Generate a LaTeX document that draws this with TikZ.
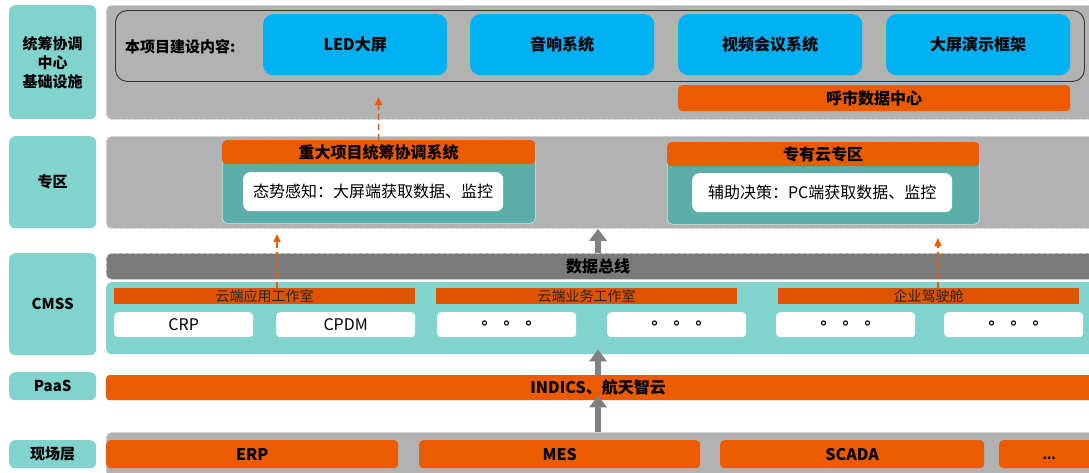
\documentclass[tikz,border=0pt]{standalone}
\usepackage{fontspec}
\setmainfont{Noto Sans CJK SC}
\newfontfamily\dotfont{DejaVu Sans}
\newfontfamily\latfont{Liberation Sans}
\usetikzlibrary{arrows.meta}
\definecolor{labteal}{HTML}{80D4CD}
\definecolor{zonegray}{HTML}{B2B2B2}
\definecolor{zoneline}{HTML}{D6D6D6}
\definecolor{busgray}{HTML}{7A7A7A}
\definecolor{screenblue}{HTML}{00B0F0}
\definecolor{orng}{HTML}{EB5C00}
\definecolor{barorng}{HTML}{DE5300}
\definecolor{systeal}{HTML}{5BAEA9}
\definecolor{arrowgray}{HTML}{808080}
\tikzset{
 layerlab/.style={fill=labteal,rounded corners=6pt,anchor=north west,minimum width=87pt,inner sep=0,align=center,font=\fontsize{15}{19}\selectfont\bfseries},
 zone/.style={fill=zonegray,draw=zoneline,dashed,line width=.8pt,rounded corners=5pt,anchor=north west,inner sep=0},
 bus/.style={zone,fill=busgray},
 cmssarea/.style={fill=labteal,rounded corners=5pt,anchor=north west,inner sep=0},
 scopebox/.style={draw=black!80,line width=.9pt,rounded corners=12pt,anchor=north west,inner sep=0},
 screen/.style={fill=screenblue,rounded corners=10pt,anchor=north west,minimum width=184pt,minimum height=61pt,inner sep=0,font=\fontsize{16}{18}\selectfont\bfseries},
 obar/.style={fill=orng,rounded corners=4pt,anchor=north west,inner sep=0,font=\fontsize{16}{18}\selectfont\bfseries},
 sysbody/.style={fill=systeal,draw=white!70!systeal,line width=.6pt,rounded corners=5pt,anchor=north west,inner sep=0},
 syshead/.style={fill=orng,rounded corners=4pt,anchor=north west,minimum height=24pt,inner sep=0,font=\fontsize{16}{18}\selectfont\bfseries},
 infobox/.style={fill=white,rounded corners=7pt,anchor=north west,minimum width=260pt,minimum height=39pt,inner sep=0,font=\fontsize{16}{18}\selectfont},
 studio/.style={fill=barorng,anchor=north west,minimum width=301pt,minimum height=16pt,inner sep=0,text=black!85,font=\fontsize{14}{16}\selectfont},
 app/.style={fill=white,rounded corners=4pt,anchor=north west,minimum width=139pt,minimum height=25pt,inner sep=0,font=\fontsize{16}{18}\selectfont},
 site/.style={fill=orng,rounded corners=4pt,anchor=north west,minimum height=28pt,inner sep=0,font=\fontsize{16}{18}\selectfont\bfseries},
 bigarrow/.style={draw=arrowgray,line width=6pt,-{Triangle[width=17pt,length=12pt]}},
 dasharrow/.style={draw=orng,line width=1.6pt,dash pattern=on 6pt off 4pt,-{Triangle[width=7pt,length=8pt]}}
}
\newcommand{\ringdots}{{\dotfont\bfseries ∘\hspace{12pt}∘\hspace{12pt}∘}}

\begin{document}
\begin{tikzpicture}[x=1pt,y=-1pt]
\path[use as bounding box,fill=white] (0,0) rectangle (1089,472);
% layer labels
\node[layerlab,minimum height=114pt] (lab1) at (9,5) {统筹协调\\中心\\基础设施};
\node[layerlab,minimum height=92pt] (lab2) at (9,136) {专区};
\node[layerlab,minimum height=102pt] (lab3) at (9,253) {CMSS};
\node[layerlab,minimum height=28pt] (lab4) at (9,372) {PaaS};
\node[layerlab,minimum height=28pt] (lab5) at (9,440) {现场层};
\coordinate (mid) at (598,0);

% infrastructure
\node[zone,minimum width=990pt,minimum height=114pt] (infra) at (106,5) {};
\node[scopebox,minimum width=969pt,minimum height=71pt] (scope) at (115,10) {};
\node[anchor=west,inner sep=0,font=\fontsize{15}{18}\selectfont\bfseries] (scopetxt) at (125,47) {本项目建设内容:};
\node[screen] (led) at (263,14) {LED大屏};
\node[screen] (audio) at (470,14) {音响系统};
\node[screen] (video) at (678,14) {视频会议系统};
\node[screen] (frame) at (886,14) {大屏演示框架};
\node[obar,minimum width=392pt,minimum height=26pt] (dc) at (678,85) {呼市数据中心};

% zone
\node[zone,minimum width=990pt,minimum height=92pt] (zhuanqu) at (106,136) {};
\node[sysbody,minimum width=313pt,minimum height=83pt] (sys1) at (222,140) {};
\node[syshead,minimum width=313pt] (sys1head) at (222,140) {重大项目统筹协调系统};
\node[infobox] (sys1info) at (243,172) {态势感知：大屏端获取数据、监控};
\node[sysbody,minimum width=312pt,minimum height=82pt] (sys2) at (667,142) {};
\node[syshead,minimum width=312pt] (sys2head) at (667,142) {专有云专区};
\node[infobox] (sys2info) at (692,173) {辅助决策：PC端获取数据、监控};

% CMSS
\node[bus,minimum width=990pt,minimum height=26pt] (bus) at (106,253) {};
\node[font=\fontsize{16}{18}\selectfont\bfseries] (bustxt) at (bus.center -| mid) {数据总线};
\node[cmssarea,minimum width=990pt,minimum height=72pt] (cmss) at (106,282) {};
\node[studio] (studio1) at (114,288) {云端应用工作室};
\node[studio] (studio2) at (436,288) {云端业务工作室};
\node[studio] (studio3) at (778,288) {企业驾驶舱};
\node[app] (crp) at (114,312) {CRP};
\node[app] (cpdm) at (276,312) {CPDM};
\node[app] (app3) at (437,312) {\ringdots};
\node[app] (app4) at (607,312) {\ringdots};
\node[app] (app5) at (776,312) {\ringdots};
\node[app] (app6) at (944,312) {\ringdots};

% PaaS
\node[obar,rounded corners=3pt,minimum width=990pt,minimum height=25pt] (paas) at (106,375) {};
\node[font=\fontsize{16}{18}\selectfont\bfseries] (paastxt) at (paas.center -| mid) {INDICS、航天智云};

% field layer
\node[zone,minimum width=990pt,minimum height=48pt] (field) at (106,432) {};
\node[site,minimum width=292pt] (erp) at (106,440) {ERP};
\node[site,minimum width=281pt] (mes) at (419,440) {MES};
\node[site,minimum width=264pt] (scada) at (720,440) {SCADA};
\node[site,minimum width=100pt,text width=90pt,align=center,font=\latfont\fontsize{16}{18}\selectfont\bfseries] (more) at (999,440) {\vphantom{ERP}...};

% arrows
\draw[bigarrow] (bus.north -| mid) -- (zhuanqu.south -| mid);
\draw[bigarrow,shorten >=-5pt] (paas.north -| mid) -- (cmss.south -| mid);
\draw[bigarrow,shorten >=-5pt] (field.north -| mid) -- (paas.south -| mid);
\coordinate (up1) at (378.5,97);
\coordinate (from2) at (277,288);
\coordinate (up2) at (277,234);
\coordinate (from3) at (938,288);
\coordinate (up3) at (938,238);
\draw[dasharrow] (sys1head.north) -- (up1);
\draw[dasharrow] (from2) -- (up2);
\draw[dasharrow] (from3) -- (up3);
\end{tikzpicture}
\end{document}
